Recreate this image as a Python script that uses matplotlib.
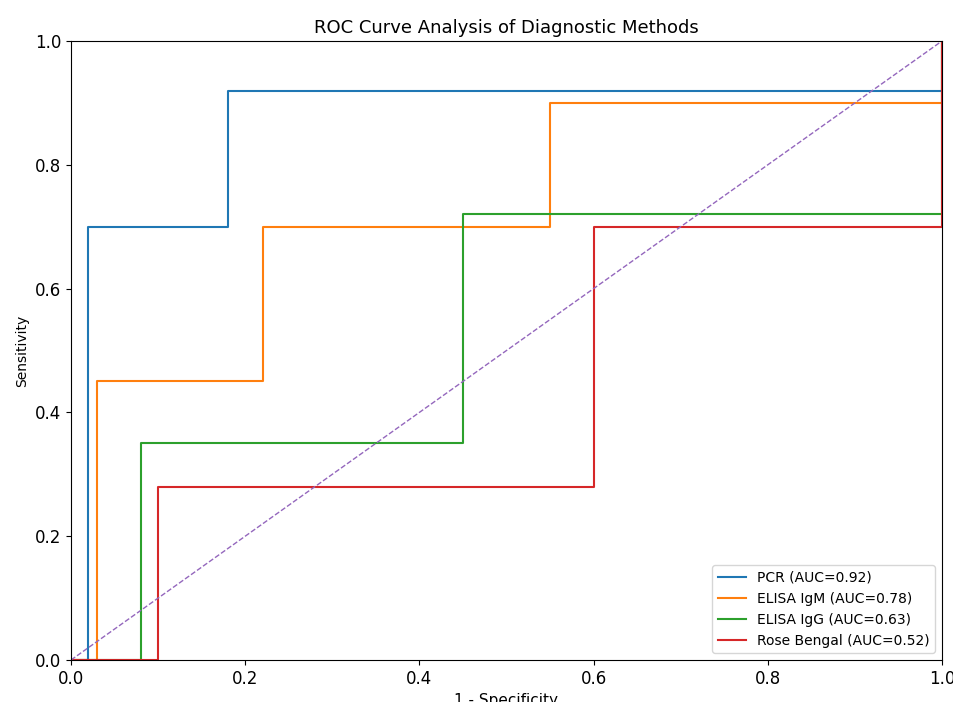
import matplotlib
matplotlib.use('agg')
import matplotlib.pyplot as plt

# ROC points (fpr, tpr)
pcr_fpr = [0.0, 0.02, 0.02, 0.18, 0.18, 1.0, 1.0]
pcr_tpr = [0.0, 0.0, 0.70, 0.70, 0.92, 0.92, 1.0]

igm_fpr = [0.0, 0.03, 0.03, 0.22, 0.22, 0.55, 0.55, 1.0, 1.0]
igm_tpr = [0.0, 0.0, 0.45, 0.45, 0.70, 0.70, 0.90, 0.90, 1.0]

igg_fpr = [0.0, 0.08, 0.08, 0.45, 0.45, 1.0, 1.0]
igg_tpr = [0.0, 0.0, 0.35, 0.35, 0.72, 0.72, 1.0]

rb_fpr = [0.0, 0.10, 0.10, 0.60, 0.60, 1.0, 1.0]
rb_tpr = [0.0, 0.0, 0.28, 0.28, 0.70, 0.70, 1.0]

labels = ["PCR (AUC=0.92)", "ELISA IgM (AUC=0.78)",
          "ELISA IgG (AUC=0.63)", "Rose Bengal (AUC=0.52)"]

fig = plt.figure(figsize=(9.54, 7.02), dpi=100)
ax = fig.add_axes([71/954, 1 - 660/702, (942 - 71)/954, (660 - 41)/702])

ax.plot(pcr_fpr, pcr_tpr, color="tab:blue", lw=1.5, label=labels[0])
ax.plot(igm_fpr, igm_tpr, color="tab:orange", lw=1.5, label=labels[1])
ax.plot(igg_fpr, igg_tpr, color="tab:green", lw=1.5, label=labels[2])
ax.plot(rb_fpr, rb_tpr, color="tab:red", lw=1.5, label=labels[3])
ax.plot([0, 1], [0, 1], color="tab:purple", lw=1, ls="--")

ax.set_xlim(0, 1)
ax.set_ylim(0, 1)
ax.set_xticks([0, 0.2, 0.4, 0.6, 0.8, 1.0])
ax.set_yticks([0, 0.2, 0.4, 0.6, 0.8, 1.0])
ax.tick_params(labelsize=12)
ax.set_title("ROC Curve Analysis of Diagnostic Methods", fontsize=13)
ax.set_xlabel("1 - Specificity", fontsize=11)
ax.set_ylabel("Sensitivity", fontsize=10)
ax.legend(loc="lower right", fontsize=10)

plt.savefig("out.png")
plt.close()
